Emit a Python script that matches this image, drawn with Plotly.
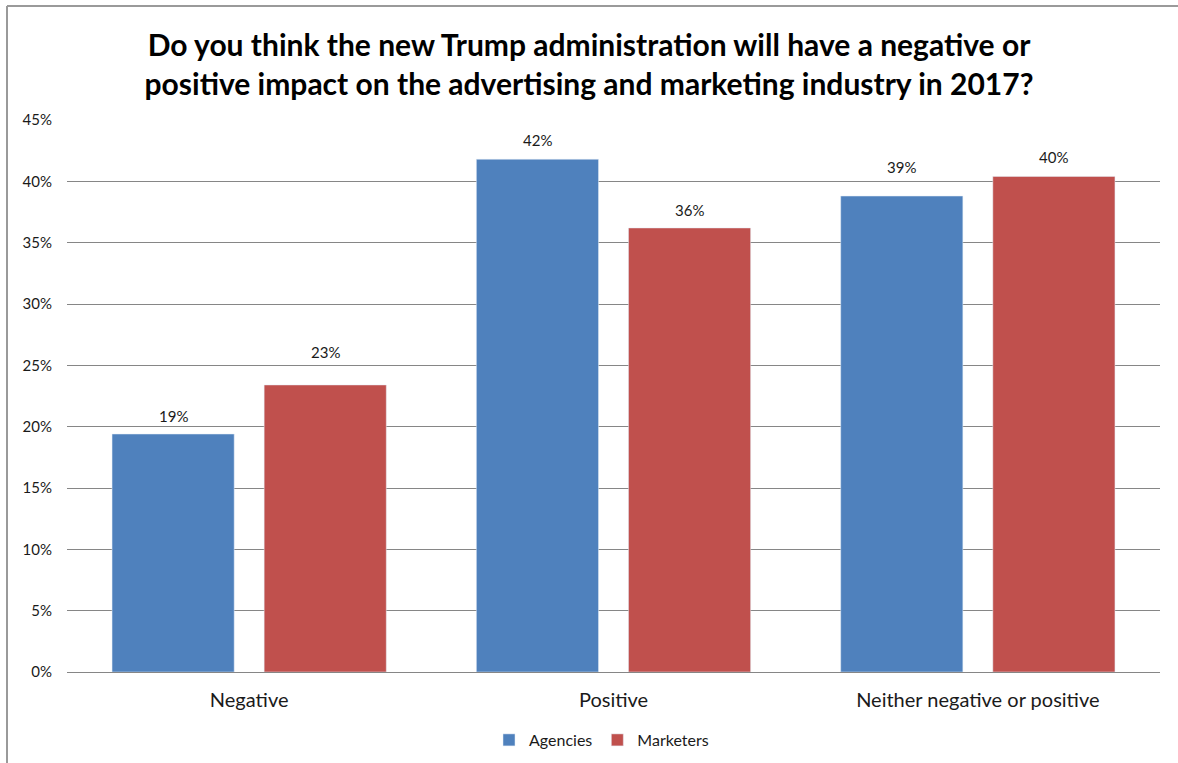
import plotly.graph_objects as go

categories = ["Negative", "Positive", "Neither negative or positive"]
agencies = [0.194, 0.418, 0.388]
marketers = [0.234, 0.362, 0.404]
y_ticks = [0, 0.05, 0.10, 0.15, 0.20, 0.25, 0.30, 0.35, 0.40, 0.45]

# pixel lift of each value label above its bar (labels sit clear of gridlines)
agencies_label_lift = [18, 19, 29]
marketers_label_lift = [33, 18, 19]

FONT = "Lato"
GRID = "#868686"
TEXT = "#1a1a1a"

W, H = 1178, 763
L, R, T, B = 67, 18, 120, 91
pw, ph = W - L - R, H - T - B

BARGAP, GROUPGAP = 0.165, 0.197
slot_px = pw / len(categories) * (1 - BARGAP) / 2

fig = go.Figure()
fig.add_trace(go.Bar(name="Agencies", x=categories, y=agencies, marker_color="#4F81BD"))
fig.add_trace(go.Bar(name="Marketers", x=categories, y=marketers, marker_color="#C0504D"))

# value labels above each bar
annotations = []
for values, lifts, shift in ((agencies, agencies_label_lift, -slot_px / 2),
                             (marketers, marketers_label_lift, slot_px / 2)):
    for cat, v, lift in zip(categories, values, lifts):
        annotations.append(dict(
            x=cat, y=v, xref="x", yref="y", text=f"{v:.0%}", showarrow=False,
            xshift=shift, yshift=lift, yanchor="middle",
            font=dict(size=15, family=FONT, color=TEXT),
        ))

fig.update_layout(
    width=W, height=H,
    margin=dict(l=L, r=R, t=T, b=B, autoexpand=False),
    paper_bgcolor="white", plot_bgcolor="white",
    font=dict(family=FONT, color=TEXT),
    title=dict(
        text="Do you think the new Trump administration will have a negative or<br>"
             "positive impact on the advertising and marketing industry in 2017?",
        x=0.5, xanchor="center", y=1 - 56 / H, yanchor="middle",
        font=dict(size=30, family=FONT, color="#000000", weight="bold"),
    ),
    barmode="group", bargap=BARGAP, bargroupgap=GROUPGAP,
    showlegend=True,
    legend=dict(
        orientation="h", x=0.5 - 12 / pw, xanchor="center", y=-(740 - 672) / ph, yanchor="middle",
        font=dict(size=16, family=FONT, color=TEXT),
        itemwidth=30, traceorder="normal",
    ),
    xaxis=dict(
        showgrid=False, showline=True, linecolor=GRID, linewidth=1,
        tickfont=dict(size=20, family=FONT, color=TEXT),
        ticks="", ticklabelstandoff=10, automargin=False,
    ),
    yaxis=dict(
        range=[0, 0.45], tickvals=y_ticks, tickformat=".0%",
        showgrid=True, gridcolor=GRID, gridwidth=1, zeroline=False,
        showline=False, ticks="", automargin=False,
        tickfont=dict(size=15, family=FONT, color=TEXT),
        ticklabelstandoff=14,
    ),
    annotations=annotations,
    shapes=[
        # frame around the chart area (top and left edges)
        dict(type="line", xref="paper", yref="paper",
             x0=(7 - L) / pw, x1=(W + 5 - L) / pw,
             y0=(H - B - 6) / ph, y1=(H - B - 6) / ph,
             line=dict(color="#9a9a9a", width=2)),
        dict(type="line", xref="paper", yref="paper",
             x0=(7 - L) / pw, x1=(7 - L) / pw,
             y0=(H - B - 6) / ph, y1=-(B + 5) / ph,
             line=dict(color="#9a9a9a", width=2)),
    ],
)

fig.write_html("out.html")
